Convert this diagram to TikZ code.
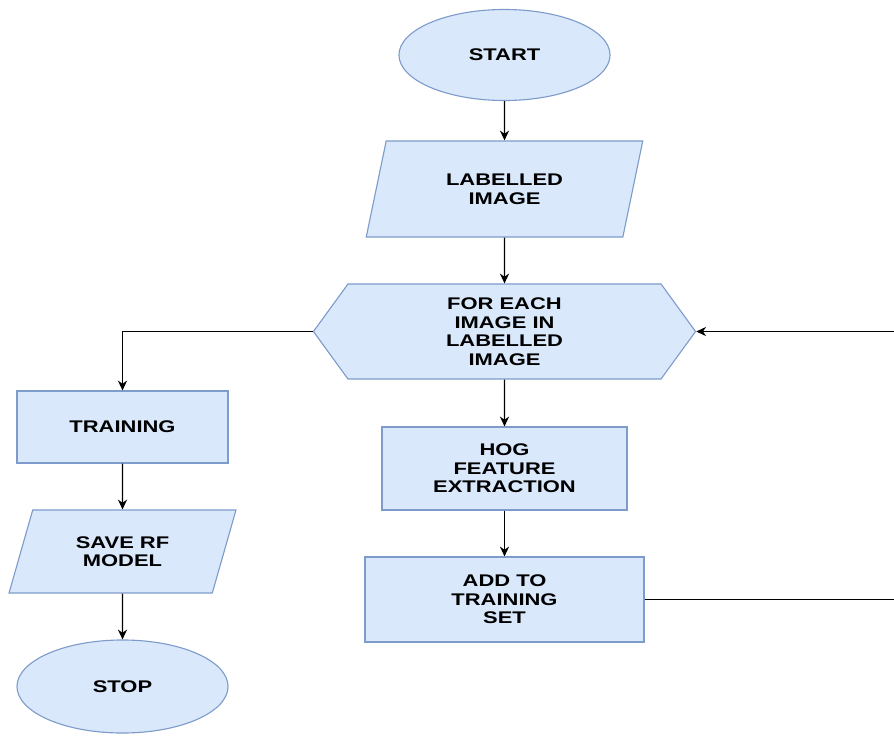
\documentclass[tikz,border=0pt]{standalone}
\usepackage{fontspec}
\setmainfont[FakeStretch=1.3]{Liberation Sans}
\usepackage{tikz}
\usetikzlibrary{arrows.meta,positioning}
\usetikzlibrary{shapes.geometric,shapes.symbols}

\definecolor{boxfill}{HTML}{DAE8FC}
\definecolor{boxline}{HTML}{7E9CCB}

\tikzset{
  box/.style={draw=boxline,fill=boxfill,line width=0.8pt,align=center,
    font=\fontsize{12}{13.2}\selectfont\bfseries,inner sep=0pt},
  terminal/.style={box,ellipse},
  process/.style={box,rectangle},
  io/.style={box,trapezium,trapezium stretches=true},
  loopbox/.style={box,signal,signal to=west and east,signal pointer angle=108},
  arr/.style={-{Stealth[length=7pt,width=6.5pt]},line width=0.8pt,black}
}

\begin{document}
\begin{tikzpicture}[x=0.025cm,y=-0.025cm]
\useasboundingbox (0,0) rectangle (894,736);

% main column
\node[terminal,minimum width=5.275cm,minimum height=2.275cm] (start) at (504.5,55) {START};
\node[io,trapezium left angle=72,trapezium right angle=108,
      minimum width=6.975cm,minimum height=2.4cm] (labelled) at (504.5,189) {LABELLED\\IMAGE};
\node[loopbox,minimum width=9.55cm,minimum height=2.375cm] (foreach) at (504.5,331.5)
      {FOR EACH\\IMAGE IN\\LABELLED\\IMAGE};
\node[process,minimum width=6.125cm,minimum height=2.075cm] (hog) at (504.5,468.5)
      {HOG\\FEATURE\\EXTRACTION};
\node[process,minimum width=6.975cm,minimum height=2.125cm] (addto) at (504.5,599.5)
      {ADD TO\\TRAINING\\SET};

% left column
\node[process,minimum width=5.275cm,minimum height=1.8cm] (training) at (122.5,427) {TRAINING};
\node[io,trapezium left angle=68,trapezium right angle=112,
      minimum width=5.675cm,minimum height=2.075cm] (saverf) at (122.5,551.5) {SAVE RF\\MODEL};
\node[terminal,minimum width=5.275cm,minimum height=2.325cm] (stop) at (122.5,686.5) {STOP};

\coordinate (rt) at (920,0);

\draw[arr] (start) -- (labelled);
\draw[arr] (labelled) -- (foreach);
\draw[arr] (foreach) -- (hog);
\draw[arr] (hog) -- (addto);
\draw[arr] (foreach.west) -| (training.north);
\draw[arr] (training) -- (saverf);
\draw[arr] (saverf) -- (stop);
\draw[arr] (addto.east) -- (addto.east -| rt) -- (foreach.east -| rt) -- (foreach.east);
\end{tikzpicture}
\end{document}
